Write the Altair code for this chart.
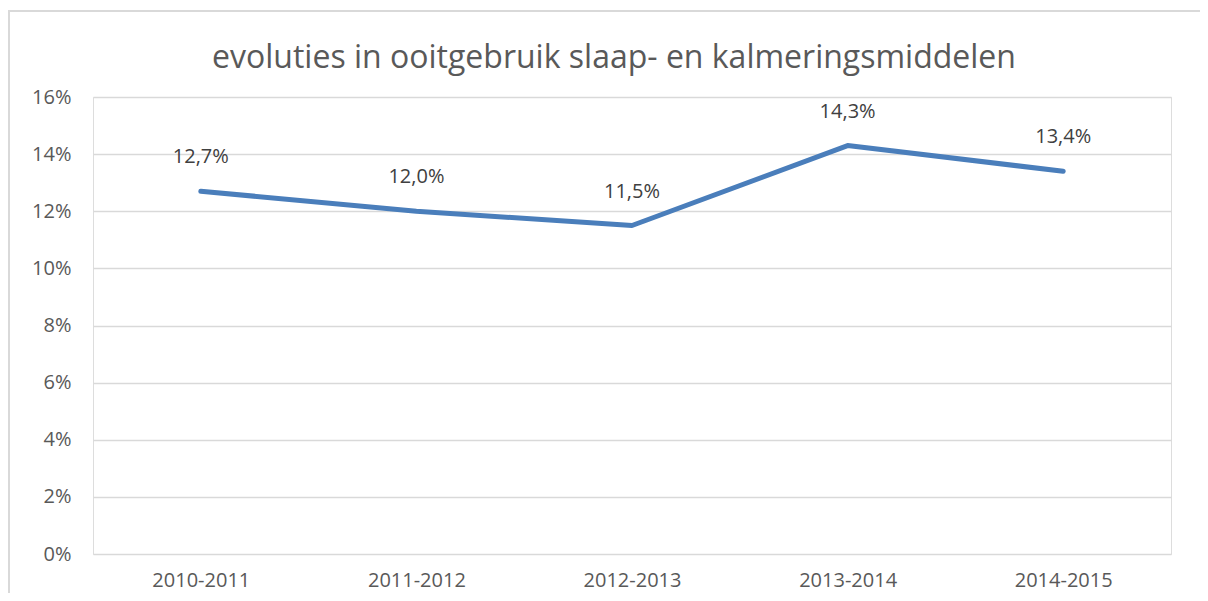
import altair as alt
import pandas as pd

years = ["2010-2011", "2011-2012", "2012-2013", "2013-2014", "2014-2015"]
values = [12.7, 12.0, 11.5, 14.3, 13.4]
title_text = "evoluties in ooitgebruik slaap- en kalmeringsmiddelen"

df = pd.DataFrame({"jaar": years, "waarde": [v / 100 for v in values]})

FONT = "Open Sans"
W, H = 1078, 457

x_enc = alt.X("jaar:N", sort=years, title=None,
              scale=alt.Scale(type="point", padding=0.5),
              axis=alt.Axis(labelAngle=0, ticks=False, domain=False, grid=False,
                            labelFontSize=20, labelColor="#595959", labelFont=FONT,
                            labelPadding=16))
y_enc = alt.Y("waarde:Q", title=None,
              scale=alt.Scale(domain=[0, 0.16], nice=False),
              axis=alt.Axis(format=".0%", values=[0, 0.02, 0.04, 0.06, 0.08, 0.10, 0.12, 0.14, 0.16],
                            ticks=False, domain=False, gridColor="#D9D9D9", gridWidth=1.3,
                            labelFontSize=20, labelColor="#595959", labelFont=FONT,
                            labelPadding=22))

base = alt.Chart(df)

border = base.mark_rect(fill=None, stroke="#D9D9D9", strokeWidth=1.3, clip=False).encode(
    x=alt.value(-84), x2=alt.value(1400), y=alt.value(-86), y2=alt.value(700)
)

title = alt.Chart(pd.DataFrame({"t": [title_text]})).mark_text(
    fontSize=32, font=FONT, color="#595959", align="center", baseline="middle", clip=False
).encode(text="t:N", x=alt.value(521), y=alt.value(-39))

line = base.mark_line(color="#4A7EBB", strokeWidth=5, strokeCap="round", strokeJoin="round").encode(
    x=x_enc, y=y_enc
)

labels = base.transform_calculate(
    lbl="replace(format(datum.waarde, '.1%'), '.', ',')"
).mark_text(dy=-34, fontSize=20, color="#404040", font=FONT).encode(
    x=alt.X("jaar:N", sort=years), y="waarde:Q", text="lbl:N"
)

chart = alt.layer(border, title, line, labels).properties(
    width=W, height=H,
    padding={"left": 85, "top": 89, "right": 29, "bottom": 39},
    autosize=alt.AutoSizeParams(type="none"),
).configure_view(strokeWidth=0, stroke="transparent").configure(background="white")

chart.save("out.html", embed_options={"renderer": "svg", "actions": False})
